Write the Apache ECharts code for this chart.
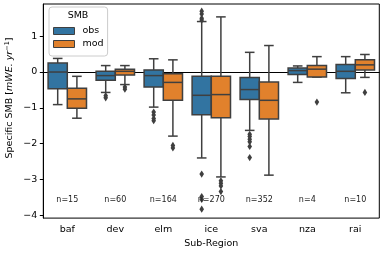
<!DOCTYPE html>
<html><head><meta charset="utf-8">
<script src="https://cdn.jsdelivr.net/npm/echarts@6/dist/echarts.min.js"></script>
<style>html,body{margin:0;padding:0;background:#fff}#c{width:383px;height:254px}</style>
</head><body><div id="c"></div>
<script>
const categories = ['baf','dev','elm','ice','sva','nza','rai'];
// [low whisker, q1, median, q3, high whisker]
const obsStats = [
  [-0.91,-0.47, 0.00, 0.25, 0.38],
  [-0.57,-0.23,-0.10, 0.02, 0.18],
  [-0.98,-0.42,-0.10, 0.06, 0.37],
  [-2.40,-1.19,-0.65,-0.12, 1.41],
  [-1.63,-0.77,-0.49,-0.15, 0.55],
  [-0.29,-0.07, 0.04, 0.11, 0.17],
  [-0.58,-0.18, 0.02, 0.21, 0.43]
];
const modStats = [
  [-1.29,-1.01,-0.75,-0.45,-0.12],
  [-0.35,-0.08, 0.02, 0.08, 0.18],
  [-1.79,-0.79,-0.29,-0.05, 0.34],
  [-2.93,-1.28,-0.63,-0.12, 1.54],
  [-2.88,-1.31,-0.79,-0.28, 0.74],
  [-0.14,-0.14, 0.08, 0.18, 0.43],
  [-0.15, 0.06, 0.20, 0.34, 0.49]
];
const obsOutliers = [
  [],
  [-0.66,-0.72],
  [-1.12,-1.20,-1.30,-1.36],
  [1.45,1.50,1.62,1.70,-2.85,-3.48,-3.56,-3.83],
  [-1.74,-1.80,-1.88,-1.95,-2.08,-2.39],
  [],
  []
];
const modOutliers = [
  [],
  [-0.42,-0.48],
  [-2.05,-2.12],
  [-3.04,-3.11,-3.18,-3.34],
  [],
  [-0.84],
  [-0.57]
];
const counts = [15,60,164,270,352,4,10];
const yTicks = [-4,-3,-2,-1,0,1];

const OBS_COLOR = '#3274a1', MOD_COLOR = '#e1812c', GRAY = '#3f3f3f';
const FONT = 'DejaVu Sans';
const N_LABEL_Y = -3.57;

function boxData(stats){ return stats.map((s,i)=>[i].concat(s)); }
function outData(outs){ const d=[]; outs.forEach((arr,i)=>arr.forEach(v=>d.push([i,v]))); return d; }

function boxRender(sign, color){
  return function(params, api){
    const ci = api.value(0);
    const band = api.size([1,0])[0];
    const w = band*0.4;
    const cx = api.coord([ci,0])[0] + sign*w/2;
    const Y = v => api.coord([ci,v])[1];
    const yl=Y(api.value(1)), y1=Y(api.value(2)), ym=Y(api.value(3)), y3=Y(api.value(4)), yh=Y(api.value(5));
    const st = {stroke:GRAY, lineWidth:1.5};
    return {type:'group', children:[
      {type:'line', shape:{x1:cx,y1:y3,x2:cx,y2:yh}, style:st},
      {type:'line', shape:{x1:cx,y1:y1,x2:cx,y2:yl}, style:st},
      {type:'line', shape:{x1:cx-w/4,y1:yh,x2:cx+w/4,y2:yh}, style:st},
      {type:'line', shape:{x1:cx-w/4,y1:yl,x2:cx+w/4,y2:yl}, style:st},
      {type:'rect', shape:{x:cx-w/2,y:y3,width:w,height:y1-y3}, style:{fill:color, stroke:GRAY, lineWidth:1.5}},
      {type:'line', shape:{x1:cx-w/2,y1:ym,x2:cx+w/2,y2:ym}, style:st}
    ]};
  };
}
function outRender(sign){
  return function(params, api){
    const ci = api.value(0);
    const band = api.size([1,0])[0];
    const w = band*0.4;
    const p = api.coord([ci, api.value(1)]);
    const cx = p[0] + sign*w/2, cy = p[1];
    const hw=2.3, hh=3.6;
    return {type:'polygon', shape:{points:[[cx,cy-hh],[cx+hw,cy],[cx,cy+hh],[cx-hw,cy]]}, style:{fill:GRAY}};
  };
}
function nRender(params, api){
  const ci = api.value(0);
  const p = api.coord([ci, N_LABEL_Y]);
  return {type:'text', x:p[0], y:p[1], style:{text:'n='+api.value(1), align:'center', verticalAlign:'middle', fontSize:8, fontFamily:FONT, fill:'#222'}};
}

const chart = echarts.init(document.getElementById('c'), null, {renderer:'canvas'});
chart.setOption({
  animation:false,
  backgroundColor:'#fff',
  grid:{left:43.3, right:3.7, top:4, bottom:34.7, show:true, borderColor:'#000', borderWidth:1},
  xAxis:{
    type:'category', data:categories, boundaryGap:true,
    name:'Sub-Region', nameLocation:'middle', nameGap:20,
    nameTextStyle:{fontFamily:FONT, fontSize:9.5, color:'#000'},
    axisLine:{lineStyle:{color:'#000', width:1}},
    axisTick:{alignWithLabel:true, length:3.5, lineStyle:{color:'#000'}},
    axisLabel:{fontFamily:FONT, fontSize:9.5, color:'#000', margin:6},
    splitLine:{show:false}
  },
  yAxis:{
    type:'value', min:-4.08, max:1.9,
    axisLine:{show:true, lineStyle:{color:'#000', width:1}},
    axisTick:{show:true, length:3.5, lineStyle:{color:'#000'}, customValues:yTicks},
    axisLabel:{fontFamily:FONT, fontSize:9.5, color:'#000', margin:6, customValues:yTicks,
      formatter:v=>String(v).replace('-','\u2212')},
    splitLine:{show:false}
  },
  legend:{
    data:['obs','mod'], orient:'vertical', left:49, top:7,
    padding:[19,4,7,4], itemWidth:21, itemHeight:7, itemGap:3,
    icon:'rect',
    itemStyle:{borderColor:GRAY, borderWidth:1},
    borderColor:'#cccccc', borderWidth:1, borderRadius:3, backgroundColor:'rgba(255,255,255,0.8)',
    textStyle:{fontFamily:FONT, fontSize:9.5, color:'#000', padding:[0,0,0,3]}
  },
  graphic:[
    {type:'text', left:null, x:78, y:15.5, z:100, style:{text:'SMB', align:'center', verticalAlign:'middle', fontFamily:FONT, fontSize:9.5, fill:'#000'}},
    {type:'text', x:10, y:98, rotation:Math.PI/2, z:100, style:{
      text:'{n|Specific SMB [}{i|mWE. yr}{s|\u22121}{n|]}', align:'center', verticalAlign:'middle',
      rich:{
        n:{fontFamily:FONT, fontSize:9.5, fill:'#000', lineHeight:12},
        i:{fontFamily:FONT, fontSize:9.5, fontStyle:'italic', fill:'#000', lineHeight:12},
        s:{fontFamily:FONT, fontSize:6.5, fill:'#000', verticalAlign:'top', lineHeight:7}
      }}}
  ],
  series:[
    {name:'obs', type:'custom', renderItem:boxRender(-1, OBS_COLOR), itemStyle:{color:OBS_COLOR},
      encode:{x:0, y:[1,2,3,4,5]}, data:boxData(obsStats), z:2},
    {name:'mod', type:'custom', renderItem:boxRender(1, MOD_COLOR), itemStyle:{color:MOD_COLOR},
      encode:{x:0, y:[1,2,3,4,5]}, data:boxData(modStats), z:2},
    {name:'obsOut', type:'custom', renderItem:outRender(-1), encode:{x:0,y:1}, data:outData(obsOutliers), z:3},
    {name:'modOut', type:'custom', renderItem:outRender(1), encode:{x:0,y:1}, data:outData(modOutliers), z:3},
    {name:'counts', type:'custom', renderItem:nRender, encode:{x:0}, data:counts.map((c,i)=>[i,c]), z:4}
  ]
});
</script></body></html>
